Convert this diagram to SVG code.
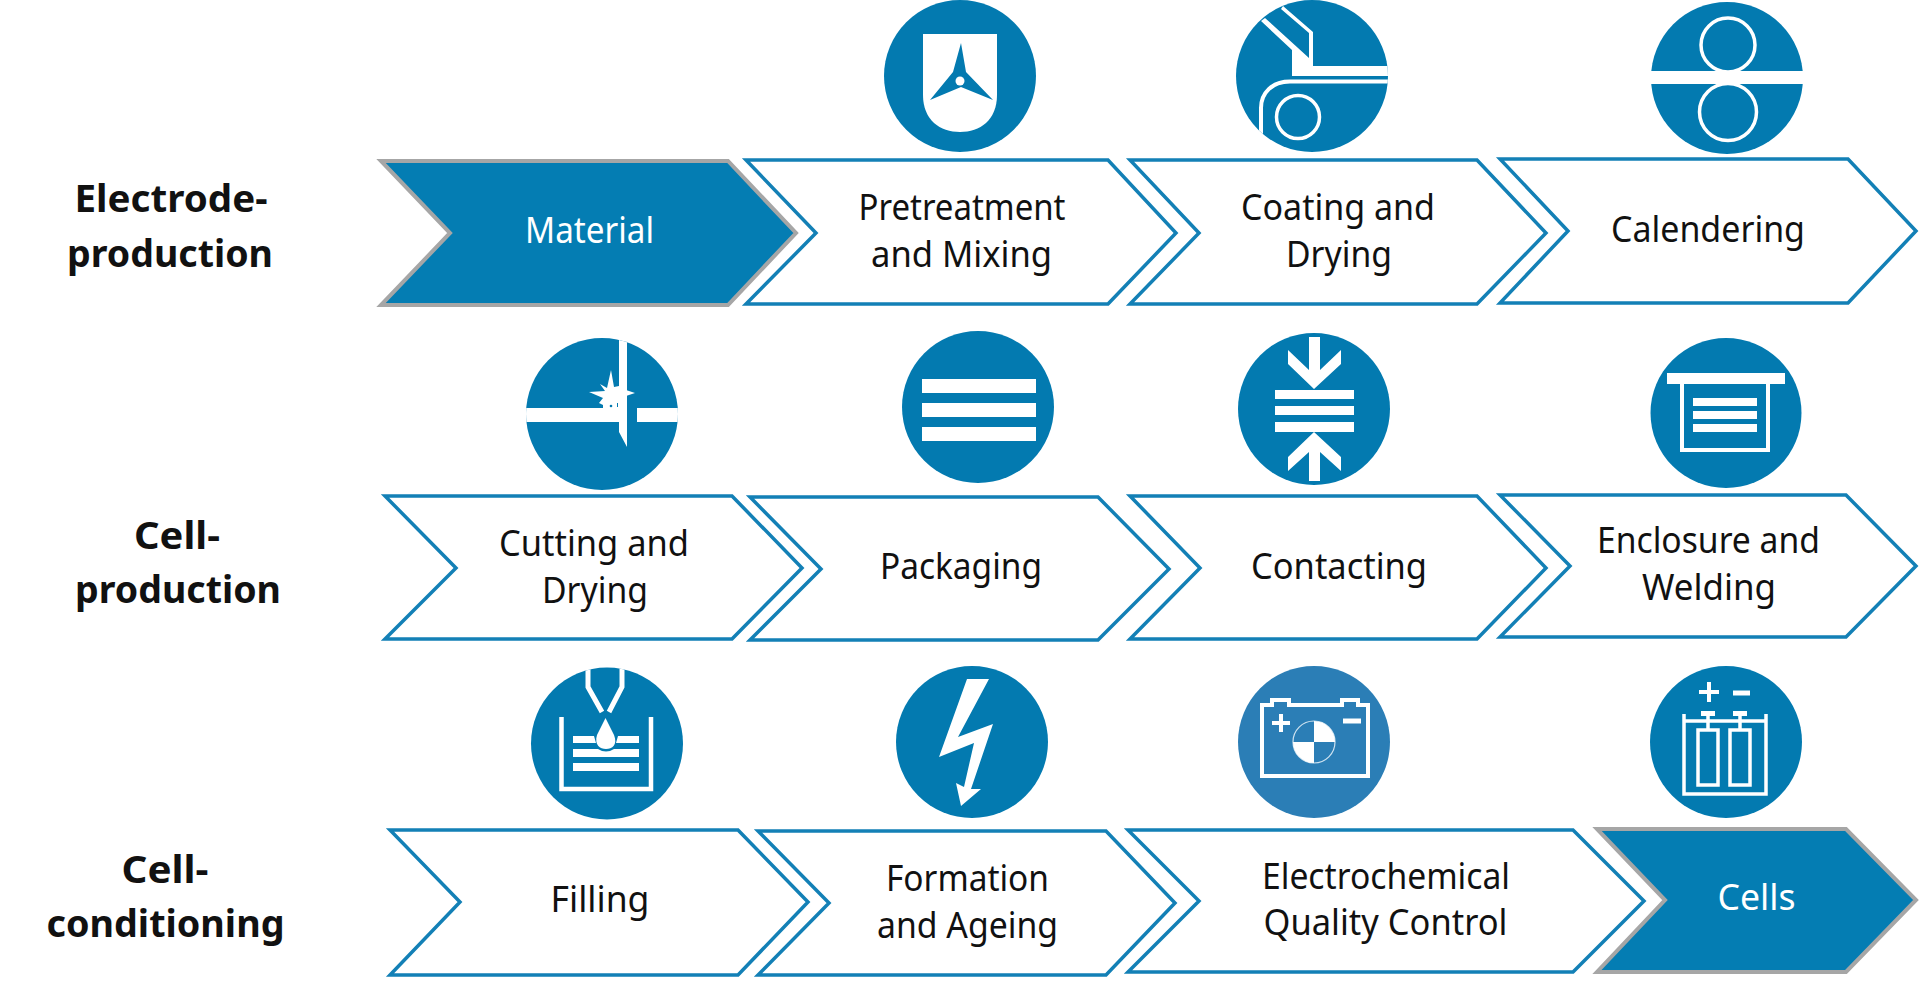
<svg xmlns="http://www.w3.org/2000/svg" width="1920" height="981" viewBox="0 0 1920 981">
<defs>
<style>
.c{fill:#047db3}
.b{fill:#037ab0}
.w{fill:#fff}
.l{fill:none;stroke:#fff}
.o{fill:#fff;stroke:#1380b6;stroke-width:3.500}
.f{fill:#047db3;stroke:#a6a6a6;stroke-width:4}
text{font-family:"Noto Sans","Open Sans",sans-serif;font-size:36px;fill:#111;text-anchor:middle}
.t{font-weight:700;font-size:37px}
</style>
<clipPath id="cc"><circle cx="1312" cy="76" r="76"/></clipPath>
<clipPath id="cu"><ellipse cx="602" cy="414" rx="76" ry="76"/></clipPath>
<clipPath id="cf"><circle cx="607" cy="743.500" r="76"/></clipPath>
</defs>
<rect width="1920" height="981" fill="#fff"/>

<g id="label-electrode"><text class="t" x="171" y="212" textLength="193" lengthAdjust="spacingAndGlyphs">Electrode-</text><text class="t" x="170" y="267" textLength="206" lengthAdjust="spacingAndGlyphs">production</text></g>
<g id="label-cell"><text class="t" x="177" y="549" textLength="86" lengthAdjust="spacingAndGlyphs">Cell-</text><text class="t" x="178" y="603" textLength="206" lengthAdjust="spacingAndGlyphs">production</text></g>
<g id="label-conditioning"><text class="t" x="165" y="883" textLength="87" lengthAdjust="spacingAndGlyphs">Cell-</text><text class="t" x="165.500" y="937" textLength="238" lengthAdjust="spacingAndGlyphs">conditioning</text></g>

<g id="material"><path class="f" d="M381 161H728L796 233L728 305H381L450 233Z"/><text x="589.500" y="243" textLength="129" lengthAdjust="spacingAndGlyphs" style="fill:#fff">Material</text></g>
<g id="pretreatment"><path class="o" d="M746 160H1108L1176 233L1108 304H746L816 233Z"/><text x="962" y="220" textLength="207" lengthAdjust="spacingAndGlyphs">Pretreatment</text><text x="961.500" y="267" textLength="181" lengthAdjust="spacingAndGlyphs">and Mixing</text></g>
<g id="coating"><path class="o" d="M1130 160H1477L1546 233L1477 304H1130L1199 233Z"/><text x="1338" y="220" textLength="194" lengthAdjust="spacingAndGlyphs">Coating and</text><text x="1339" y="267" textLength="106" lengthAdjust="spacingAndGlyphs">Drying</text></g>
<g id="calendering"><path class="o" d="M1500 159H1848L1916 231L1848 303H1500L1568 231Z"/><text x="1708" y="242" textLength="194" lengthAdjust="spacingAndGlyphs">Calendering</text></g>

<g id="cutting"><path class="o" d="M385 496H732L802 568L732 639H385L456 568Z"/><text x="594" y="556" textLength="190" lengthAdjust="spacingAndGlyphs">Cutting and</text><text x="595" y="603" textLength="106" lengthAdjust="spacingAndGlyphs">Drying</text></g>
<g id="packaging"><path class="o" d="M750 497H1098L1169 569L1098 640H750L821 569Z"/><text x="961" y="579" textLength="162" lengthAdjust="spacingAndGlyphs">Packaging</text></g>
<g id="contacting"><path class="o" d="M1130 496H1477L1546 568L1477 639H1130L1200 568Z"/><text x="1339" y="579" textLength="176" lengthAdjust="spacingAndGlyphs">Contacting</text></g>
<g id="enclosure"><path class="o" d="M1500 495H1846L1916 566L1846 637H1500L1570 566Z"/><text x="1708.500" y="553" textLength="223" lengthAdjust="spacingAndGlyphs">Enclosure and</text><text x="1709" y="600" textLength="134" lengthAdjust="spacingAndGlyphs">Welding</text></g>

<g id="filling"><path class="o" d="M390 830H738L808 902L738 975H390L460 902Z"/><text x="600" y="912" textLength="99" lengthAdjust="spacingAndGlyphs">Filling</text></g>
<g id="formation"><path class="o" d="M758 831H1106L1175 903L1106 975H758L829 903Z"/><text x="967.500" y="891" textLength="163" lengthAdjust="spacingAndGlyphs">Formation</text><text x="967.500" y="938" textLength="181" lengthAdjust="spacingAndGlyphs">and Ageing</text></g>
<g id="electrochemical"><path class="o" d="M1128 830H1573L1644 901L1573 972H1128L1199 901Z"/><text x="1386" y="889" textLength="248" lengthAdjust="spacingAndGlyphs">Electrochemical</text><text x="1385.500" y="935" textLength="244" lengthAdjust="spacingAndGlyphs">Quality Control</text></g>
<g id="cells"><path class="f" d="M1597 829H1846L1916 900L1846 972H1597L1665 900Z"/><text x="1756.500" y="910" textLength="78" lengthAdjust="spacingAndGlyphs" style="fill:#fff">Cells</text></g>

<g id="icon-mixing"><circle class="b" cx="960" cy="76" r="76"/>
<path class="w" d="M923 34H997V95C997 120 980 132 960 132C940 132 923 120 923 95Z"/>
<path class="b" d="M961 43L966 72L993 100L961 87L930 100L953 72Z"/><circle class="w" cx="960" cy="81" r="4.500"/></g>

<g id="icon-coating"><circle class="b" cx="1312" cy="76" r="76"/>
<g clip-path="url(#cc)">
<path class="w" d="M1283 6L1313 32V66H1392V76H1292V50L1261 21L1265 18L1309 58V33L1281 9Z"/>
<path class="l" stroke-width="4" d="M1392 81.500H1290C1272 81.500 1261 93 1261 108V140"/>
<circle class="l" stroke-width="3.500" cx="1298" cy="117" r="21.500"/>
</g></g>

<g id="icon-calendering"><circle class="b" cx="1727" cy="78" r="76"/>
<path class="w" d="M1651 71H1803V84H1651Z"/>
<circle class="l" stroke-width="3.500" cx="1728" cy="45" r="27"/>
<circle class="l" stroke-width="3.500" cx="1728" cy="112" r="28.500"/></g>

<g id="icon-cutting"><circle class="b" cx="602" cy="414" r="76"/>
<g clip-path="url(#cu)">
<path class="w" d="M520 408H619V338H627V447L619 432V422H520ZM637 408H684V422H637Z"/>
</g>
<path class="w" d="M611 370L614 387L619 386V409H603L603 405L599 403L603 398L589 392L605 391L600 384L607 388Z"/><path class="w" d="M626 390L635 393L626 396Z"/>
<circle class="b" cx="611" cy="406" r="1.300"/><rect class="b" x="617" y="403" width="1" height="4"/></g>

<g id="icon-packaging"><circle class="b" cx="978" cy="407" r="76"/>
<path class="w" d="M922 379H1036V393H922ZM922 403H1036V417H922ZM922 427H1036V441H922Z"/></g>

<g id="icon-contacting"><circle class="b" cx="1314" cy="409" r="76"/>
<path class="w" d="M1275 390H1354V399H1275ZM1275 406H1354V415H1275ZM1275 422H1354V432H1275Z"/>
<path class="w" d="M1309 337H1320V370L1341 350V364L1314 389L1288 364V350L1309 370Z"/>
<path class="w" d="M1309 481H1320V452L1341 471V457L1314 432L1288 457V471L1309 452Z"/></g>

<g id="icon-enclosure"><ellipse class="b" cx="1726" cy="413" rx="75.500" ry="75"/>
<path class="w" d="M1667 373H1785V384H1667Z"/>
<path class="l" stroke-width="4" d="M1682 384V450H1768V384"/>
<path class="w" d="M1693 398H1757V406H1693ZM1693 411H1757V419H1693ZM1693 424H1757V432H1693Z"/></g>

<g id="icon-filling"><circle class="b" cx="607" cy="743.500" r="76"/>
<g clip-path="url(#cf)"><path class="l" stroke-width="5" d="M588 660V687L602 712M622 660V687L609 712"/></g>
<path class="l" stroke-width="4.500" d="M561.500 717V789H651V717"/>
<path class="w" d="M573 736H594L596 743H573ZM618 736H639V743H616ZM573 749H598Q606 754 614 749H639V757H573ZM573 763H639V771H573Z"/>
<path class="w" d="M605.500 718L614 735C618 745 612 749 606 749C600 749 594 745 597 735Z"/></g>

<g id="icon-formation"><circle class="b" cx="972" cy="742" r="76"/>
<path class="w" d="M967 679H989L958 737L993 724L971 789H981L961 806L956 783L964 787L974 743L939 757Z"/></g>

<g id="icon-control"><circle cx="1314" cy="742" r="76" fill="#2b7eb6"/>
<path class="l" stroke-width="4" d="M1262 705H1272V700H1289V705H1342V700H1358V705H1368V776H1262Z"/>
<path class="l" stroke-width="4" d="M1272 723H1290M1281 714V732"/>
<path class="l" stroke-width="5" d="M1343 721H1361"/>
<circle cx="1314" cy="742" r="21" fill="none" stroke="#cfe3f0" stroke-width="1.200"/>
<path class="w" d="M1314 721A21 21 0 0 1 1335 742H1314ZM1314 742V763A21 21 0 0 1 1293 742Z"/></g>

<g id="icon-cells"><circle class="b" cx="1726" cy="742" r="76"/>
<path class="l" stroke-width="4" d="M1699 692H1719M1709 682V702"/>
<path class="l" stroke-width="5" d="M1733 693H1750"/>
<path class="l" stroke-width="3.500" d="M1684 714V794H1766V714M1684 721H1766M1708 714V729M1740 714V729"/>
<path class="w" d="M1701 711H1715V716H1701ZM1733 711H1747V716H1733Z"/>
<path class="l" stroke-width="3.500" d="M1698 730H1718V785H1698ZM1730 730H1750V785H1730Z"/></g>
</svg>
